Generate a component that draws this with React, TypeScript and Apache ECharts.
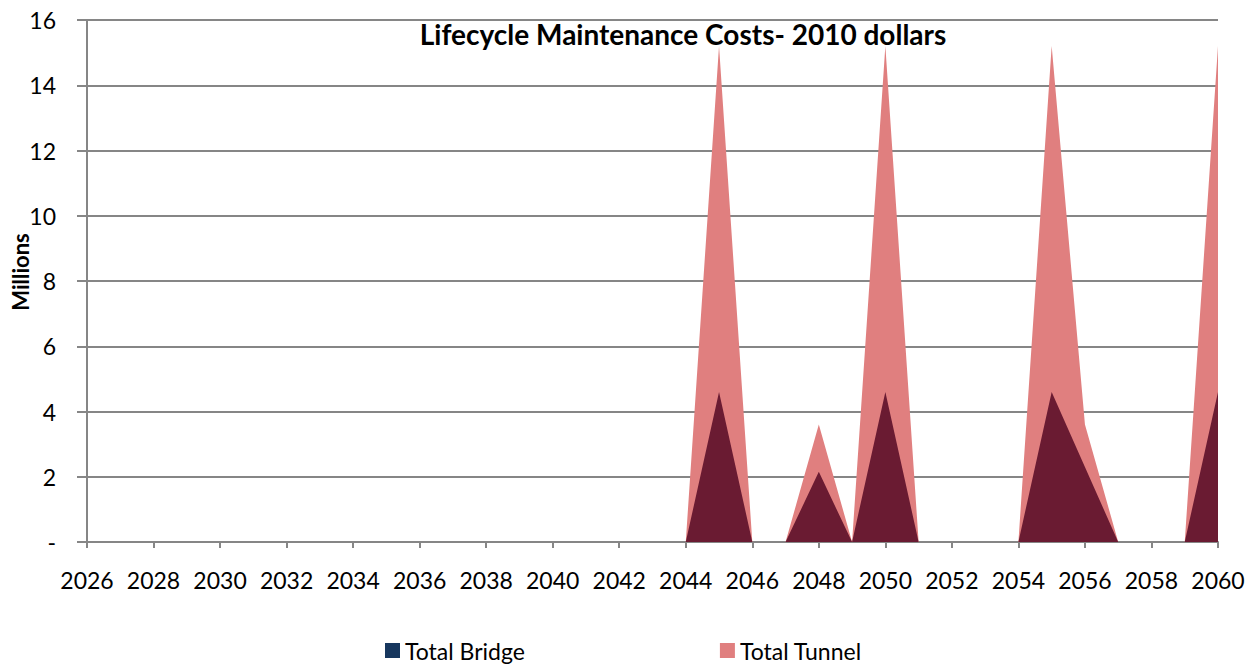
import React, { useEffect, useRef } from "react";
import * as echarts from "echarts";

const years = [
  "2026", "2027", "2028", "2029", "2030", "2031", "2032", "2033", "2034", "2035",
  "2036", "2037", "2038", "2039", "2040", "2041", "2042", "2043", "2044", "2045",
  "2046", "2047", "2048", "2049", "2050", "2051", "2052", "2053", "2054", "2055",
  "2056", "2057", "2058", "2059", "2060",
];

const totalBridge = [
  0, 0, 0, 0, 0, 0, 0, 0, 0, 0,
  0, 0, 0, 0, 0, 0, 0, 0, 0, 4.6,
  0, 0, 2.15, 0, 4.6, 0, 0, 0, 0, 4.6,
  2.3, 0, 0, 0, 4.6,
];

const totalTunnel = [
  0, 0, 0, 0, 0, 0, 0, 0, 0, 0,
  0, 0, 0, 0, 0, 0, 0, 0, 0, 15.2,
  0, 0, 3.6, 0, 15.2, 0, 0, 0, 0, 15.2,
  3.6, 0, 0, 0, 15.2,
];

const FONT = "Lato";

export default function App() {
  const ref = useRef<HTMLDivElement>(null);
  useEffect(() => {
    if (!ref.current) return;
    const chart = echarts.init(ref.current, null, { renderer: "svg" });
    chart.setOption({
      animation: false,
      backgroundColor: "#ffffff",
      title: {
        text: "Lifecycle Maintenance Costs- 2010 dollars",
        left: 678,
        textAlign: "center",
        top: 15,
        textStyle: { fontFamily: FONT, fontSize: 28, fontWeight: "bold", color: "#000" },
      },
      legend: {
        top: 634,
        left: 380,
        itemGap: 195,
        itemWidth: 15,
        itemHeight: 15,
        icon: "rect",
        textStyle: { fontFamily: FONT, fontSize: 23, color: "#000" },
        data: [
          { name: "Total Bridge", itemStyle: { color: "#17375E" } },
          { name: "Total Tunnel", itemStyle: { color: "#E07F7F" } },
        ],
      },
      grid: { left: 87, right: 37, top: 20, bottom: 122, outerBoundsMode: "none" },
      xAxis: {
        type: "category",
        data: years,
        boundaryGap: false,
        axisLine: { lineStyle: { color: "#868686", width: 2 } },
        axisTick: { interval: 1, length: 6, lineStyle: { color: "#868686", width: 2 } },
        axisLabel: {
          interval: 1,
          margin: 26,
          fontFamily: FONT,
          fontSize: 23,
          color: "#000",
        },
        splitLine: { show: false },
      },
      yAxis: {
        type: "value",
        min: 0,
        max: 16,
        interval: 2,
        name: "Millions",
        nameLocation: "middle",
        nameGap: 56,
        nameMoveOverlap: false,
        nameTextStyle: {
          fontFamily: FONT,
          fontSize: 22,
          fontWeight: "bold",
          color: "#000",
          padding: [0, 0, 0, 18],
        },
        axisLine: { show: true, lineStyle: { color: "#868686", width: 2 } },
        axisTick: { show: true, length: 10, lineStyle: { color: "#868686", width: 2 } },
        axisLabel: {
          margin: 31,
          fontFamily: FONT,
          fontSize: 23,
          color: "#000",
          formatter: (v: number) => (v === 0 ? "-" : String(v)),
        },
        splitLine: { lineStyle: { color: "#868686", width: 2 } },
      },
      series: [
        {
          name: "Total Tunnel",
          type: "line",
          data: totalTunnel,
          symbol: "none",
          lineStyle: { width: 0 },
          itemStyle: { color: "#E07F7F" },
          areaStyle: { color: "#E07F7F", opacity: 1 },
          z: 2,
        },
        {
          name: "Total Bridge",
          type: "line",
          data: totalBridge,
          symbol: "none",
          lineStyle: { width: 0 },
          itemStyle: { color: "#17375E" },
          areaStyle: { color: "#6A1B32", opacity: 1 },
          z: 3,
        },
      ],
    });
    return () => chart.dispose();
  }, []);
  return (
    <div
      ref={ref}
      style={{ position: "fixed", left: 0, top: 0, width: 1255, height: 664 }}
    />
  );
}
